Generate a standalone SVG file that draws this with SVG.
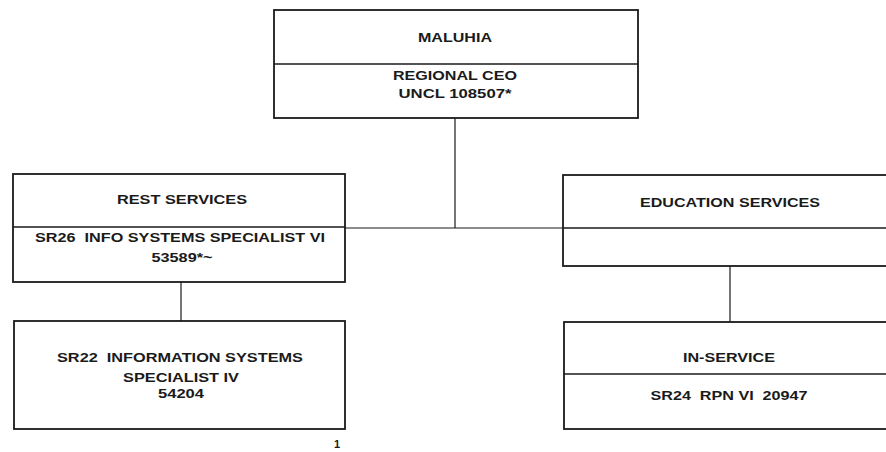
<svg xmlns="http://www.w3.org/2000/svg" width="886" height="452" viewBox="0 0 886 452">
<style>
.box{fill:none;stroke:#1a1a1a;stroke-width:1.8}
.div{stroke:#1a1a1a;stroke-width:1.4}
.con{stroke:#1a1a1a;stroke-width:1.2;fill:none}
text{font-family:"Liberation Sans",Arial,sans-serif;font-weight:bold;font-size:13px;fill:#1a1a1a;text-anchor:middle}
</style>
<rect width="886" height="452" fill="#ffffff"/>
<g id="connectors">
<line class="con" x1="455" y1="118" x2="455" y2="228"/>
<line class="con" x1="345" y1="228" x2="563" y2="228"/>
<line class="con" x1="181" y1="282" x2="181" y2="321"/>
<line class="con" x1="730" y1="266" x2="730" y2="322"/>
</g>
<g id="maluhia">
<rect class="box" x="274" y="10" width="364" height="108"/>
<line class="div" x1="274" y1="64" x2="638" y2="64"/>
<text x="455" y="42" textLength="74" lengthAdjust="spacingAndGlyphs">MALUHIA</text>
<text x="455" y="80" textLength="124" lengthAdjust="spacingAndGlyphs">REGIONAL CEO</text>
<text x="455" y="98" textLength="113" lengthAdjust="spacingAndGlyphs">UNCL 108507*</text>
</g>
<g id="rest-services">
<rect class="box" x="13" y="174" width="332" height="108"/>
<line class="div" x1="13" y1="227" x2="345" y2="227"/>
<text x="182" y="204" textLength="130" lengthAdjust="spacingAndGlyphs">REST SERVICES</text>
<text x="180" y="242" textLength="290" lengthAdjust="spacingAndGlyphs" xml:space="preserve">SR26  INFO SYSTEMS SPECIALIST VI</text>
<text x="182" y="262" textLength="61" lengthAdjust="spacingAndGlyphs">53589*~</text>
</g>
<g id="education-services">
<rect class="box" x="563" y="175" width="334" height="91"/>
<line class="div" x1="563" y1="228" x2="897" y2="228"/>
<text x="730" y="207" textLength="180" lengthAdjust="spacingAndGlyphs">EDUCATION SERVICES</text>
</g>
<g id="info-systems-specialist">
<rect class="box" x="14" y="321" width="331" height="108"/>
<text x="180" y="362" textLength="246" lengthAdjust="spacingAndGlyphs" xml:space="preserve">SR22  INFORMATION SYSTEMS</text>
<text x="181" y="382" textLength="116" lengthAdjust="spacingAndGlyphs">SPECIALIST IV</text>
<text x="181" y="398" textLength="46" lengthAdjust="spacingAndGlyphs">54204</text>
</g>
<g id="in-service">
<rect class="box" x="564" y="322" width="334" height="107"/>
<line class="div" x1="564" y1="374" x2="898" y2="374"/>
<text x="729" y="362" textLength="92" lengthAdjust="spacingAndGlyphs">IN-SERVICE</text>
<text x="729" y="400" textLength="157" lengthAdjust="spacingAndGlyphs" xml:space="preserve">SR24  RPN VI  20947</text>
</g>
<text x="337" y="448" style="font-size:11px">1</text>
</svg>
